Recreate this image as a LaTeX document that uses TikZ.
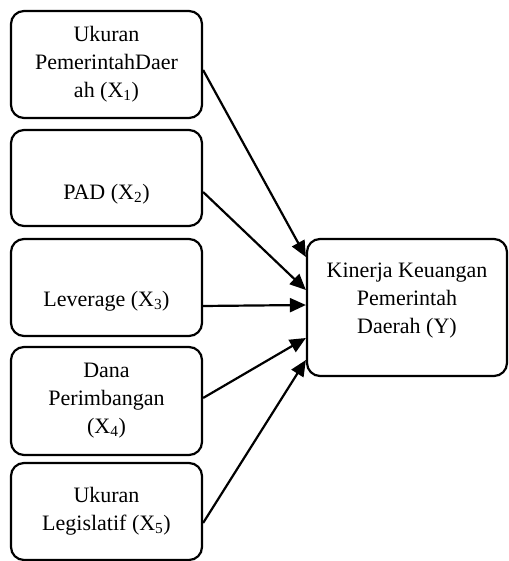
\documentclass[tikz,border=0pt]{standalone}
\usepackage{fontspec}
\setmainfont{Liberation Serif}
\usetikzlibrary{arrows.meta,positioning}
\newcommand{\sub}[1]{\textsubscript{#1}}

\begin{document}
\begin{tikzpicture}[x=1pt,y=1pt,
    var/.style={draw,line width=2.2pt,rounded corners=13pt,align=center,
      minimum width=191pt,inner sep=2pt,font=\fontsize{22}{28}\selectfont},
    pengaruh/.style={line width=2.2pt,-{Triangle[length=16pt,width=14pt]}}]
  \useasboundingbox (0,0) rectangle (508,561);
  \node[var,minimum height=107pt] (x1) at (106.5,496.5) {Ukuran\\PemerintahDaer\\ah (X\sub{1})};
  \node[var,minimum height=96pt,text height=48pt] (x2) at (106.5,383) {PAD (X\sub{2})};
  \node[var,minimum height=97pt,text height=42pt] (x3) at (106.5,273.5) {Leverage (X\sub{3})};
  \node[var,minimum height=108pt] (x4) at (106.5,160) {Dana\\Perimbangan\\(X\sub{4})};
  \node[var,minimum height=97pt] (x5) at (106.5,49.5) {Ukuran\\Legislatif (X\sub{5})};
  \node[var,minimum width=200pt,minimum height=137pt,text depth=19pt] (y) at (407,253.5)
    {Kinerja Keuangan\\Pemerintah\\Daerah (Y)};
  \draw[pengaruh] ([yshift=-5.5pt]x1.east) -- ([yshift=50.5pt]y.west);
  \draw[pengaruh] ([yshift=-14pt]x2.east) -- ([yshift=17.5pt]y.west);
  \draw[pengaruh] ([yshift=-18.5pt]x3.east) -- ([yshift=2.5pt]y.west);
  \draw[pengaruh] ([yshift=3pt]x4.east) -- ([yshift=-30.5pt]y.west);
  \draw[pengaruh] ([yshift=-11.5pt]x5.east) -- ([yshift=-52.5pt]y.west);
\end{tikzpicture}
\end{document}
